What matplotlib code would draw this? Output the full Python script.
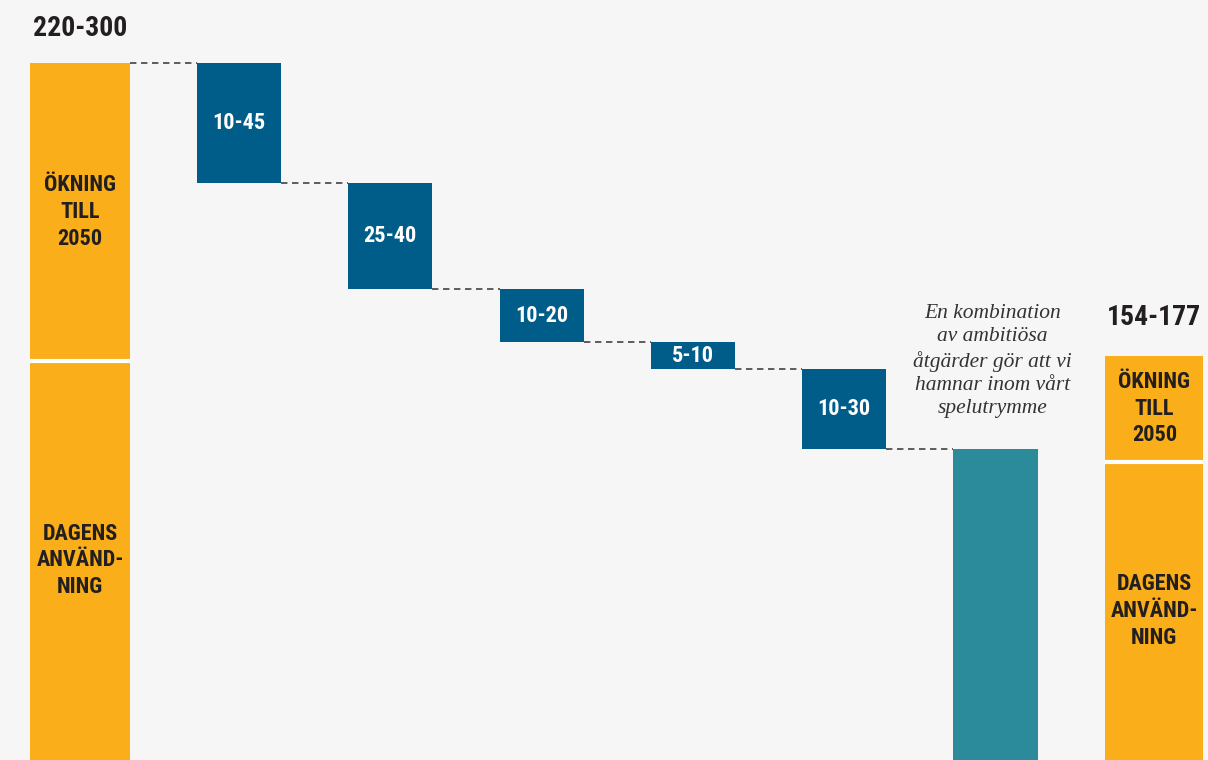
import matplotlib
matplotlib.use("Agg")
import matplotlib.pyplot as plt
import matplotlib.font_manager as fm
import numpy as np

# ---- data -------------------------------------------------------------
start_range_label = "220-300"
end_range_label = "154-177"
start_total = 262          # total demand 2050 (bar height)
start_current = 150        # today's use, left bar
step_labels = ["10-45", "25-40", "10-20", "5-10", "10-30"]
step_values = [45, 40, 20, 10, 30]
end_total = 152            # room to manoeuvre, right bar
end_current = 112          # today's use, right bar
segment_labels = ["ÖKNING\nTILL\n2050", "DAGENS\nANVÄND-\nNING"]
note_text = "En kombination\nav ambitiösa\nåtgärder gör att vi\nhamnar inom vårt\nspelutrymme"

# ---- style ------------------------------------------------------------
BG = "#f6f6f6"
ORANGE = "#f9ae1a"
BLUE = "#005d8a"
TEAL = "#2b8b9b"
DARK = "#231f20"

names = {f.name for f in fm.fontManager.ttflist}
cond = next((n for n in ["Roboto Condensed", "Liberation Sans Narrow",
                         "DejaVu Sans Condensed", "Open Sans Condensed"] if n in names), None)
if cond:
    head_font = dict(family=[cond, "DejaVu Sans"], weight="bold")
else:
    head_font = dict(family=["DejaVu Sans"], weight="bold", stretch="condensed")
serif_font = dict(family=["Liberation Serif", "DejaVu Serif"], style="italic")

fig = plt.figure(figsize=(12.08, 7.6), dpi=100, facecolor=BG)
ax = fig.add_axes([0, 0, 1, 1])
ax.set_facecolor(BG)
ax.axis("off")

n_steps = len(step_values)
step_pos = np.arange(1, n_steps + 1)
left_pos = 0 - 0.05
result_pos = n_steps + 1
right_pos = n_steps + 2 + 0.05

w_end = 0.66
w_right = 0.648
w_step = 0.555
w_result = 0.562

# left stacked bar
ax.bar(left_pos, start_current, width=w_end, color=ORANGE, bottom=0)
ax.bar(left_pos, start_total - start_current, width=w_end, color=ORANGE,
       bottom=start_current)
ax.hlines(start_current, left_pos - w_end / 2, left_pos + w_end / 2,
          color="white", lw=3.0, zorder=3)

# waterfall steps
tops = start_total - np.concatenate([[0], np.cumsum(step_values)[:-1]])
bottoms = tops - np.array(step_values)
ax.bar(step_pos, step_values, width=w_step, bottom=bottoms, color=BLUE)
for x, b, v, lab in zip(step_pos, bottoms, step_values, step_labels):
    ax.text(x, b + v / 2, lab, ha="center", va="center", color="white",
            fontsize=16, **head_font)

# result bar
result = start_total - sum(step_values)
ax.bar(result_pos, result, width=w_result, color=TEAL)

# dashed connectors
edges_right = [left_pos + w_end / 2] + list(step_pos + w_step / 2)
edges_left = list(step_pos - w_step / 2) + [result_pos - w_result / 2]
levels = list(tops) + [result]
for x0, x1, y in zip(edges_right, edges_left, levels):
    ax.plot([x0, x1], [y, y], color="#333333", lw=1.1,
            linestyle=(0, (4.2, 3.0)), zorder=1)

# right stacked bar
ax.bar(right_pos, end_current, width=w_right, color=ORANGE)
ax.bar(right_pos, end_total - end_current, width=w_right, color=ORANGE,
       bottom=end_current)
ax.hlines(end_current, right_pos - w_right / 2, right_pos + w_right / 2,
          color="white", lw=3.0, zorder=3)

# segment labels inside the orange bars
for x, cur, tot in [(left_pos, start_current, start_total),
                    (right_pos, end_current, end_total)]:
    ax.text(x, (cur + tot) / 2, segment_labels[0], ha="center", va="center",
            color=DARK, fontsize=16, linespacing=1.27, **head_font)
    ax.text(x, cur / 2, segment_labels[1], ha="center", va="center",
            color=DARK, fontsize=16, linespacing=1.27, **head_font)

# range labels above the orange bars
ax.annotate(start_range_label, (left_pos, start_total), xytext=(0, 35),
            textcoords="offset pixels", ha="center", va="center",
            color=DARK, fontsize=20, **head_font)
ax.annotate(end_range_label, (right_pos, end_total), xytext=(0, 38),
            textcoords="offset pixels", ha="center", va="center",
            color=DARK, fontsize=20, **head_font)

# note above the result bar
ax.annotate(note_text, (result_pos, result), xytext=(-3, 88),
            textcoords="offset pixels", ha="center", va="center",
            color="#333333", fontsize=15.5, linespacing=1.3, **serif_font)

px_per_step = 151.3
x0 = 1 - 239 / px_per_step
ax.set_xlim(x0, x0 + 1208 / px_per_step)
ax.set_ylim(0, 760 / 2.66)

fig.savefig("out.png", dpi=100, facecolor=BG)
